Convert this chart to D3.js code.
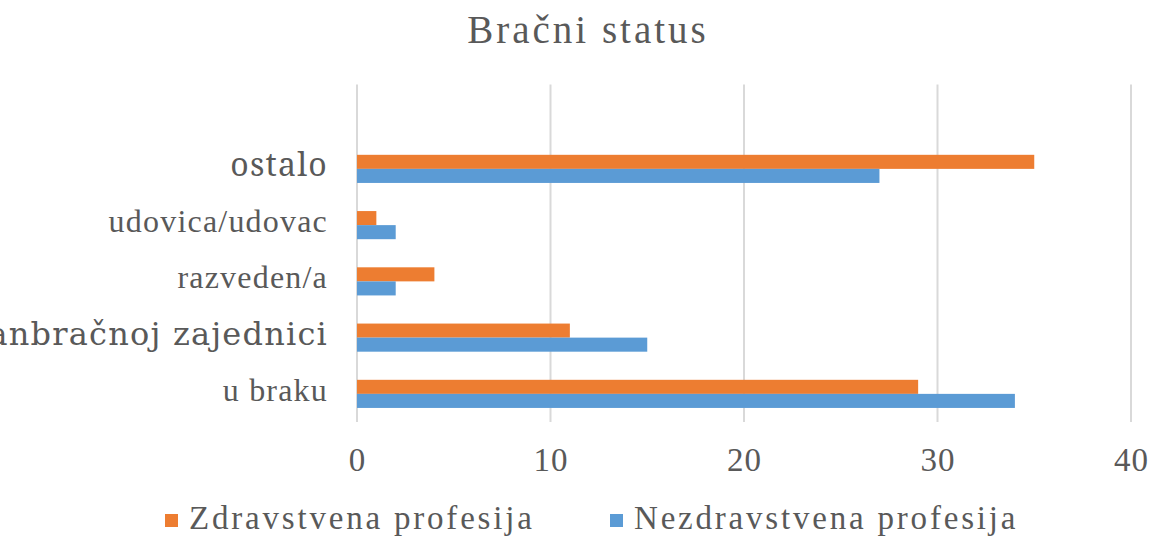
<!DOCTYPE html>
<html>
<head>
<meta charset="utf-8">
<script src="https://cdn.jsdelivr.net/npm/d3@7"></script>
</head>
<body style="margin:0">
<svg id="chart" width="1151" height="536"></svg>
<script>
var width = 1151;
var height = 536;

// data, bottom to top as in the picture
var categories = ["u braku", "u vanbračnoj zajednici", "razveden/a", "udovica/udovac", "ostalo"];
var zdravstvena = [29, 11, 4, 1, 35];
var nezdravstvena = [34, 15, 2, 2, 27];
var seriesNames = ["Zdravstvena profesija", "Nezdravstvena profesija"];
var seriesColors = ["#ED7D31", "#5B9BD5"];
var xTicks = [0, 10, 20, 30, 40];

var textColor = "#595959";
// font trial per category row
var trialFonts = ["Times New Roman", "DejaVu Serif", "serif", "Tinos", "Noto Serif"];

var svg = d3.select("#chart");

var left = 357, right = 1131, plotBottom = 422, bandStep = 56.25;

var x = d3.scaleLinear().domain([0, 40]).range([left, right]);
var y = d3.scaleBand()
    .domain(categories)
    .range([plotBottom, plotBottom - bandStep * categories.length]);
var sub = d3.scaleBand().domain([0, 1]).range([0, y.bandwidth()]).paddingOuter(1);

function serifText(sel, size, spacing, fam) {
    sel.attr("font-family", fam || "Liberation Serif")
       .attr("font-size", size)
       .attr("letter-spacing", spacing)
       .attr("fill", textColor);
}

svg.append("text")
    .attr("x", 588).attr("y", 43)
    .attr("text-anchor", "middle")
    .call(serifText, 39, 3, "Liberation Serif")
    .text("Bračni status");

svg.append("g")
    .selectAll("line")
    .data(xTicks)
    .enter()
    .append("line")
      .attr("x1", function(d) { return x(d); })
      .attr("x2", function(d) { return x(d); })
      .attr("y1", plotBottom - bandStep * (categories.length + 1))
      .attr("y2", plotBottom)
      .attr("stroke", "#d9d9d9")
      .attr("stroke-width", 2);

var rows = categories.map(function(c, i) {
    return {cat: c, vals: [zdravstvena[i], nezdravstvena[i]]};
});
var groups = svg.append("g")
    .selectAll("g")
    .data(rows)
    .enter()
    .append("g")
      .attr("transform", function(d) { return "translate(0," + y(d.cat) + ")"; });

groups.selectAll("rect")
    .data(function(d) { return d.vals; })
    .enter()
    .append("rect")
      .attr("x", x(0))
      .attr("y", function(d, i) { return sub(i); })
      .attr("width", function(d) { return x(d) - x(0); })
      .attr("height", sub.bandwidth())
      .attr("fill", function(d, i) { return seriesColors[i]; });

svg.append("g")
    .selectAll("text")
    .data(categories)
    .enter()
    .append("text")
      .attr("x", 328)
      .attr("y", function(d) { return y(d) + y.bandwidth() / 2; })
      .attr("dy", "0.22em")
      .attr("text-anchor", "end")
      .each(function(d, i) { d3.select(this).call(serifText, 32, 1.2, trialFonts[i]); })
      .text(function(d) { return d; });

var xAxis = d3.axisBottom(x).tickValues(xTicks).tickSize(0).tickPadding(0);
var gx = svg.append("g")
    .attr("transform", "translate(0,471)")
    .call(xAxis);
gx.attr("font-family", null).attr("font-size", null);
gx.select(".domain").remove();
gx.selectAll("text")
    .attr("y", 0)
    .attr("dy", null)
    .call(serifText, 33, 1, "Liberation Serif, serif");

var legendX = [165, 610];
var legend = svg.append("g")
    .selectAll("g")
    .data(seriesNames)
    .enter()
    .append("g")
      .attr("transform", function(d, i) { return "translate(" + legendX[i] + ",529)"; });
legend.append("rect")
    .attr("x", 0).attr("y", -15)
    .attr("width", 13).attr("height", 13)
    .attr("fill", function(d, i) { return seriesColors[i]; });
legend.append("text")
    .attr("x", 24)
    .call(serifText, 33, 2.8, "Liberation Serif")
    .text(function(d) { return d; });
</script>
</body>
</html>
